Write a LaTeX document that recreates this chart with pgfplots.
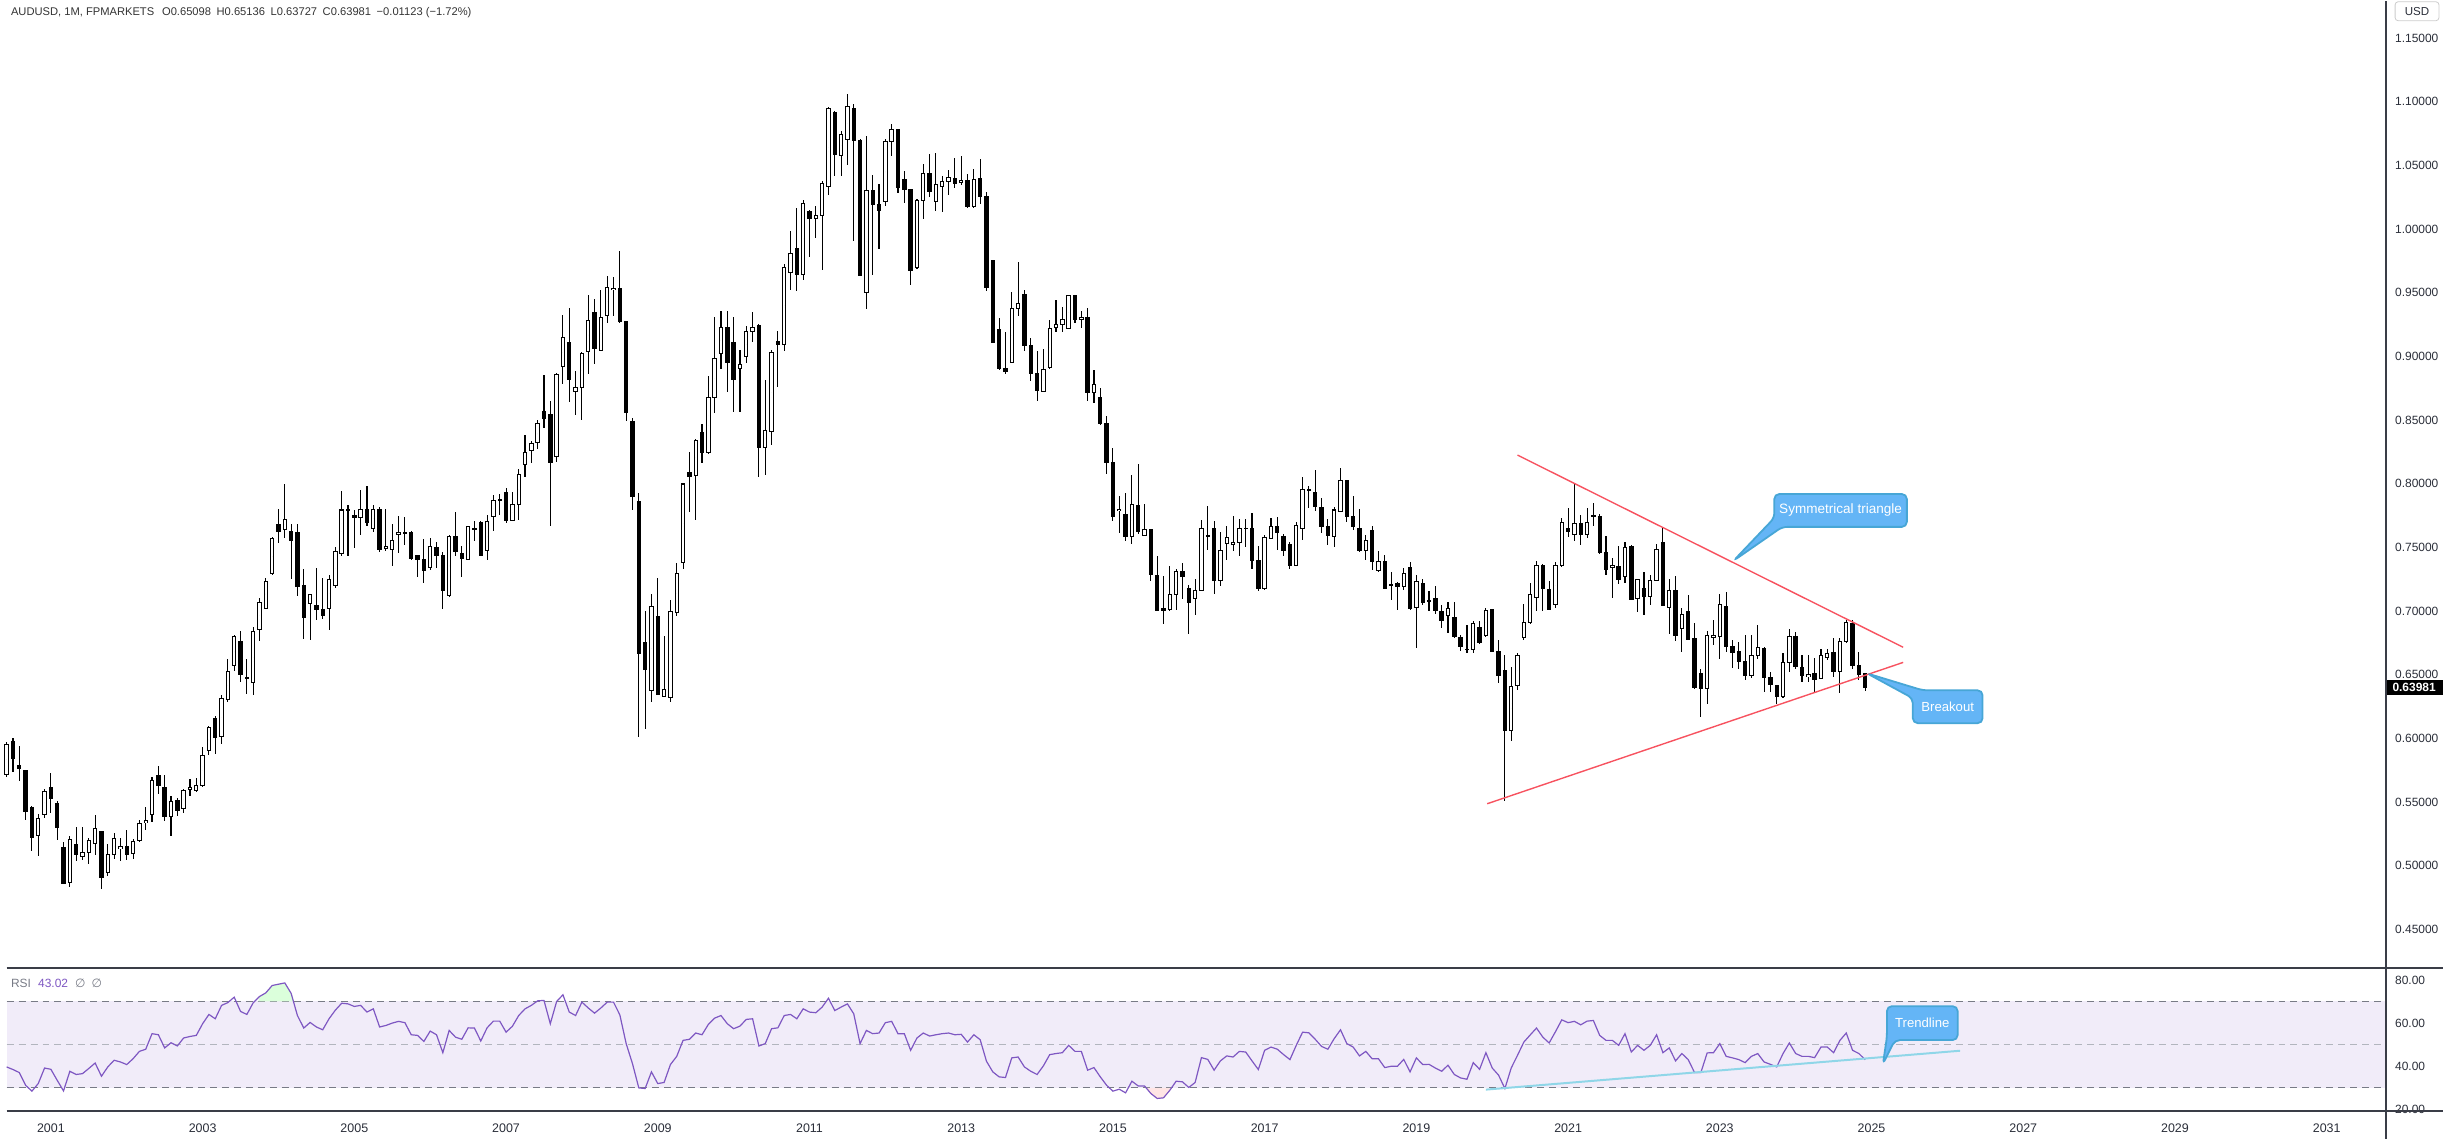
\documentclass[border=0pt]{standalone}
\usepackage{fontspec}
\setmainfont{Liberation Sans}
\newfontfamily\dejavu{DejaVu Sans}
\usepackage{pgfplots}
\usepackage{pgfplotstable}
\pgfplotsset{compat=1.18}
\definecolor{clab}{HTML}{2A2E39}
\definecolor{chdr}{HTML}{333333}
\definecolor{csep}{HTML}{3A3D47}
\definecolor{crsi}{HTML}{7E57C2}
\definecolor{cband}{RGB}{241,236,249}
\definecolor{cdash}{HTML}{787B86}
\definecolor{cdashb}{HTML}{B2B5BE}
\definecolor{cred}{HTML}{F7525F}
\definecolor{cfill}{HTML}{64B5F6}
\definecolor{cborder}{HTML}{47A6D6}
\definecolor{ctrend}{HTML}{8FD6E8}

\pgfplotstableread{
i O H L C
0 0.5714 0.5970 0.5700 0.5949
1 0.5975 0.6001 0.5740 0.5839
2 0.5787 0.5944 0.5667 0.5761
3 0.5745 0.5753 0.5362 0.5427
4 0.5461 0.5466 0.5119 0.5223
5 0.5239 0.5406 0.5080 0.5375
6 0.5406 0.5602 0.5375 0.5583
7 0.5615 0.5727 0.5414 0.5531
8 0.5489 0.5505 0.5205 0.5302
9 0.5145 0.5187 0.4853 0.4860
10 0.4871 0.5231 0.4832 0.5205
11 0.5166 0.5304 0.5035 0.5088
12 0.5074 0.5304 0.5048 0.5103
13 0.5106 0.5218 0.5017 0.5197
14 0.5176 0.5395 0.5088 0.5291
15 0.5270 0.5275 0.4821 0.4910
16 0.4949 0.5171 0.4918 0.5088
17 0.5088 0.5257 0.5056 0.5218
18 0.5134 0.5218 0.5040 0.5153
19 0.5155 0.5278 0.5048 0.5088
20 0.5095 0.5210 0.5056 0.5192
21 0.5197 0.5356 0.5184 0.5333
22 0.5336 0.5461 0.5283 0.5354
23 0.5401 0.5701 0.5341 0.5670
24 0.5709 0.5787 0.5563 0.5630
25 0.5615 0.5714 0.5349 0.5385
26 0.5385 0.5549 0.5231 0.5505
27 0.5513 0.5536 0.5393 0.5435
28 0.5448 0.5602 0.5416 0.5591
29 0.5602 0.5680 0.5549 0.5612
30 0.5589 0.5688 0.5581 0.5628
31 0.5628 0.5936 0.5617 0.5865
32 0.5904 0.6100 0.5871 0.6085
33 0.6155 0.6178 0.5878 0.6011
34 0.6014 0.6340 0.5957 0.6312
35 0.6309 0.6620 0.6283 0.6523
36 0.6575 0.6815 0.6530 0.6797
37 0.6758 0.6841 0.6445 0.6505
38 0.6471 0.6620 0.6346 0.6479
39 0.6442 0.6875 0.6340 0.6836
40 0.6857 0.7102 0.6763 0.7071
41 0.7024 0.7259 0.7019 0.7236
42 0.7293 0.7580 0.7285 0.7572
43 0.7682 0.7802 0.7538 0.7624
44 0.7643 0.7998 0.7577 0.7721
45 0.7627 0.7684 0.7249 0.7554
46 0.7619 0.7684 0.7115 0.7194
47 0.7199 0.7332 0.6784 0.6950
48 0.7063 0.7136 0.6771 0.7129
49 0.7040 0.7340 0.6928 0.7014
50 0.7016 0.7259 0.6935 0.6967
51 0.7024 0.7280 0.6849 0.7251
52 0.7202 0.7502 0.7183 0.7468
53 0.7455 0.7943 0.7431 0.7794
54 0.7794 0.7833 0.7436 0.7800
55 0.7752 0.7794 0.7499 0.7734
56 0.7734 0.7951 0.7601 0.7799
57 0.7794 0.7982 0.7669 0.7695
58 0.7651 0.7833 0.7619 0.7799
59 0.7794 0.7815 0.7468 0.7483
60 0.7489 0.7802 0.7475 0.7511
61 0.7483 0.7685 0.7358 0.7553
62 0.7601 0.7746 0.7453 0.7620
63 0.7608 0.7740 0.7522 0.7615
64 0.7620 0.7629 0.7405 0.7413
65 0.7433 0.7440 0.7265 0.7405
66 0.7405 0.7567 0.7223 0.7321
67 0.7341 0.7573 0.7321 0.7511
68 0.7503 0.7545 0.7335 0.7439
69 0.7439 0.7467 0.7014 0.7159
70 0.7126 0.7595 0.7112 0.7584
71 0.7584 0.7779 0.7433 0.7469
72 0.7455 0.7511 0.7265 0.7413
73 0.7405 0.7668 0.7400 0.7662
74 0.7651 0.7704 0.7550 0.7640
75 0.7693 0.7704 0.7433 0.7439
76 0.7475 0.7754 0.7405 0.7704
77 0.7741 0.7908 0.7629 0.7872
78 0.7868 0.7920 0.7755 0.7875
79 0.7928 0.7964 0.7690 0.7713
80 0.7713 0.7936 0.7710 0.7838
81 0.7838 0.8118 0.7713 0.8076
82 0.8151 0.8383 0.8056 0.8249
83 0.8263 0.8333 0.8160 0.8319
84 0.8322 0.8501 0.8271 0.8473
85 0.8565 0.8858 0.8439 0.8515
86 0.8546 0.8649 0.7665 0.8165
87 0.8216 0.8872 0.8174 0.8858
88 0.8923 0.9328 0.8780 0.9146
89 0.9110 0.9384 0.8640 0.8822
90 0.8724 0.8886 0.8543 0.8755
91 0.8755 0.9032 0.8501 0.9021
92 0.9040 0.9479 0.8864 0.9286
93 0.9348 0.9451 0.8942 0.9060
94 0.9049 0.9524 0.9040 0.9306
95 0.9320 0.9633 0.9261 0.9538
96 0.9525 0.9627 0.9314 0.9535
97 0.9530 0.9828 0.9264 0.9272
98 0.9272 0.9278 0.8489 0.8559
99 0.8489 0.8517 0.7796 0.7903
100 0.7863 0.7931 0.6013 0.6664
101 0.6754 0.6999 0.6077 0.6539
102 0.6377 0.7131 0.6287 0.7036
103 0.6958 0.7260 0.6343 0.6349
104 0.6329 0.6804 0.6323 0.6382
105 0.6321 0.7089 0.6287 0.7000
106 0.6986 0.7377 0.6963 0.7293
107 0.7385 0.8006 0.7327 0.7998
108 0.8090 0.8249 0.7782 0.8059
109 0.8068 0.8350 0.7718 0.8341
110 0.8403 0.8467 0.8165 0.8244
111 0.8244 0.8845 0.8230 0.8677
112 0.8677 0.9311 0.8557 0.8984
113 0.9021 0.9356 0.8900 0.9227
114 0.9227 0.9356 0.8719 0.8956
115 0.9110 0.9311 0.8565 0.8817
116 0.8906 0.9054 0.8565 0.8937
117 0.8998 0.9236 0.8948 0.9194
118 0.9194 0.9345 0.9116 0.9227
119 0.9240 0.9256 0.8056 0.8288
120 0.8288 0.8818 0.8069 0.8418
121 0.8413 0.9053 0.8303 0.9027
122 0.9115 0.9201 0.8758 0.9094
123 0.9097 0.9723 0.9040 0.9700
124 0.9660 0.9984 0.9522 0.9810
125 0.9849 1.0162 0.9517 0.9645
126 0.9645 1.0232 0.9601 1.0201
127 1.0141 1.0149 0.9783 1.0083
128 1.0083 1.0180 0.9927 1.0104
129 1.0104 1.0376 0.9679 1.0358
130 1.0332 1.0958 1.0266 1.0945
131 1.0914 1.0924 1.0415 1.0585
132 1.0574 1.0767 1.0415 1.0741
133 1.0702 1.1057 1.0501 1.0963
134 1.0945 1.0979 0.9909 1.0692
135 1.0697 1.0710 0.9630 0.9635
136 0.9504 1.0728 0.9371 1.0305
137 1.0305 1.0423 0.9640 1.0193
138 1.0196 1.0358 0.9843 1.0149
139 1.0214 1.0710 1.0180 1.0689
140 1.0689 1.0827 1.0572 1.0780
141 1.0780 1.0788 1.0285 1.0324
142 1.0389 1.0454 1.0206 1.0311
143 1.0311 1.0318 0.9562 0.9674
144 0.9697 1.0235 0.9684 1.0227
145 1.0222 1.0514 1.0078 1.0436
146 1.0436 1.0587 1.0248 1.0292
147 1.0214 1.0600 1.0144 1.0350
148 1.0332 1.0415 1.0136 1.0371
149 1.0371 1.0467 1.0266 1.0405
150 1.0397 1.0561 1.0324 1.0358
151 1.0365 1.0572 1.0345 1.0384
152 1.0384 1.0436 1.0167 1.0175
153 1.0175 1.0475 1.0167 1.0389
154 1.0397 1.0553 1.0196 1.0253
155 1.0258 1.0292 0.9510 0.9541
156 0.9750 0.9757 0.9105 0.9110
157 0.9214 0.9300 0.8896 0.8909
158 0.8904 0.9191 0.8862 0.8878
159 0.8956 0.9509 0.8948 0.9379
160 0.9379 0.9739 0.9321 0.9418
161 0.9488 0.9522 0.9045 0.9086
162 0.9084 0.9144 0.8805 0.8862
163 0.8862 0.9045 0.8648 0.8734
164 0.8726 0.9061 0.8719 0.8901
165 0.8914 0.9288 0.8901 0.9222
166 0.9227 0.9444 0.9188 0.9254
167 0.9254 0.9387 0.9188 0.9288
168 0.9222 0.9483 0.9214 0.9475
169 0.9475 0.9481 0.9261 0.9293
170 0.9288 0.9360 0.9222 0.9308
171 0.9308 0.9379 0.8648 0.8718
172 0.8718 0.8896 0.8635 0.8776
173 0.8674 0.8752 0.8465 0.8473
174 0.8473 0.8530 0.8074 0.8165
175 0.8165 0.8277 0.7708 0.7742
176 0.7790 0.7906 0.7614 0.7800
177 0.7755 0.7927 0.7554 0.7585
178 0.7588 0.8068 0.7528 0.7838
179 0.7833 0.8154 0.7606 0.7624
180 0.7593 0.7841 0.7590 0.7637
181 0.7637 0.7645 0.7233 0.7287
182 0.7277 0.7436 0.7000 0.7006
183 0.7019 0.7272 0.6901 0.7006
184 0.7011 0.7358 0.6998 0.7128
185 0.7131 0.7332 0.7011 0.7314
186 0.7314 0.7380 0.7092 0.7272
187 0.7180 0.7207 0.6823 0.7071
188 0.7102 0.7254 0.6966 0.7162
189 0.7162 0.7718 0.7160 0.7650
190 0.7590 0.7822 0.7483 0.7592
191 0.7650 0.7705 0.7136 0.7240
192 0.7240 0.7624 0.7196 0.7475
193 0.7528 0.7666 0.7405 0.7580
194 0.7525 0.7744 0.7475 0.7541
195 0.7541 0.7723 0.7436 0.7645
196 0.7648 0.7723 0.7501 0.7650
197 0.7645 0.7770 0.7332 0.7397
198 0.7397 0.7515 0.7154 0.7180
199 0.7175 0.7598 0.7167 0.7575
200 0.7572 0.7728 0.7570 0.7666
201 0.7666 0.7736 0.7483 0.7619
202 0.7588 0.7606 0.7436 0.7475
203 0.7520 0.7546 0.7327 0.7358
204 0.7358 0.7697 0.7355 0.7671
205 0.7650 0.8050 0.7562 0.7953
206 0.7950 0.7980 0.7807 0.7953
207 0.7932 0.8112 0.7789 0.7820
208 0.7815 0.7888 0.7614 0.7663
209 0.7666 0.7723 0.7522 0.7593
210 0.7585 0.7815 0.7501 0.7794
211 0.7783 0.8123 0.7775 0.8023
212 0.8023 0.8031 0.7702 0.7744
213 0.7744 0.7901 0.7640 0.7663
214 0.7650 0.7802 0.7468 0.7475
215 0.7475 0.7598 0.7402 0.7556
216 0.7635 0.7671 0.7319 0.7392
217 0.7319 0.7475 0.7311 0.7392
218 0.7392 0.7441 0.7170 0.7175
219 0.7203 0.7306 0.7084 0.7209
220 0.7214 0.7227 0.7011 0.7196
221 0.7196 0.7337 0.7162 0.7298
222 0.7345 0.7384 0.7011 0.7019
223 0.7032 0.7285 0.6710 0.7235
224 0.7214 0.7254 0.7050 0.7071
225 0.7084 0.7157 0.6998 0.7076
226 0.7097 0.7196 0.6979 0.7006
227 0.7000 0.7045 0.6867 0.6927
228 0.6966 0.7071 0.6830 0.7019
229 0.6953 0.7071 0.6789 0.6797
230 0.6789 0.6815 0.6684 0.6726
231 0.6698 0.6888 0.6674 0.6702
232 0.6700 0.6919 0.6674 0.6906
233 0.6875 0.6919 0.6745 0.6750
234 0.6810 0.7024 0.6797 0.7006
235 0.7011 0.7015 0.6675 0.6680
236 0.6680 0.6771 0.6432 0.6497
237 0.6531 0.6653 0.5510 0.6066
238 0.6066 0.6562 0.5980 0.6406
239 0.6413 0.6674 0.6380 0.6653
240 0.6789 0.7058 0.6771 0.6907
241 0.6907 0.7222 0.6896 0.7131
242 0.7110 0.7397 0.6998 0.7358
243 0.7358 0.7371 0.6998 0.7176
244 0.7170 0.7233 0.7006 0.7014
245 0.7050 0.7384 0.7024 0.7358
246 0.7358 0.7729 0.7345 0.7698
247 0.7651 0.7807 0.7580 0.7624
248 0.7601 0.8002 0.7554 0.7690
249 0.7690 0.7755 0.7520 0.7601
250 0.7601 0.7810 0.7572 0.7698
251 0.7742 0.7849 0.7671 0.7748
252 0.7745 0.7763 0.7450 0.7457
253 0.7457 0.7588 0.7285 0.7327
254 0.7345 0.7416 0.7102 0.7358
255 0.7353 0.7510 0.7215 0.7249
256 0.7275 0.7541 0.7220 0.7502
257 0.7510 0.7520 0.7084 0.7089
258 0.7097 0.7254 0.6993 0.7249
259 0.7176 0.7306 0.6967 0.7118
260 0.7118 0.7280 0.7045 0.7241
261 0.7241 0.7528 0.7233 0.7483
262 0.7536 0.7658 0.7040 0.7045
263 0.7032 0.7254 0.6823 0.7163
264 0.7163 0.7275 0.6766 0.6810
265 0.6862 0.7024 0.6680 0.6970
266 0.6998 0.7129 0.6771 0.6776
267 0.6784 0.6907 0.6387 0.6398
268 0.6510 0.6544 0.6171 0.6393
269 0.6393 0.6841 0.6267 0.6805
270 0.6794 0.6928 0.6732 0.6810
271 0.6797 0.7136 0.6627 0.7050
272 0.7040 0.7149 0.6680 0.6719
273 0.6719 0.6771 0.6554 0.6674
274 0.6680 0.6758 0.6544 0.6607
275 0.6601 0.6810 0.6458 0.6492
276 0.6492 0.6815 0.6476 0.6648
277 0.6653 0.6888 0.6627 0.6711
278 0.6706 0.6719 0.6361 0.6476
279 0.6476 0.6523 0.6366 0.6424
280 0.6413 0.6419 0.6267 0.6327
281 0.6327 0.6672 0.6319 0.6593
282 0.6596 0.6857 0.6523 0.6797
283 0.6797 0.6836 0.6544 0.6562
284 0.6554 0.6653 0.6440 0.6492
285 0.6484 0.6653 0.6445 0.6502
286 0.6510 0.6633 0.6353 0.6466
287 0.6471 0.6706 0.6466 0.6648
288 0.6633 0.6700 0.6614 0.6667
289 0.6674 0.6789 0.6484 0.6528
290 0.6528 0.6789 0.6353 0.6758
291 0.6758 0.6933 0.6753 0.6907
292 0.6901 0.6928 0.6549 0.6570
293 0.6570 0.6680 0.6458 0.6502
294 0.65098 0.65136 0.63727 0.63981
}\ohlc

\pgfplotstableread{
i r
0 39.7
1 38.5
2 37.1
3 31.2
4 28.5
5 32.0
6 39.2
7 38.6
8 33.5
9 28.6
10 37.7
11 36.2
12 36.6
13 39.0
14 41.5
15 35.4
16 39.7
17 42.8
18 42.0
19 40.8
20 43.5
21 46.9
22 47.9
23 55.1
24 54.6
25 48.5
26 50.9
27 49.4
28 53.1
29 53.8
30 54.3
31 59.7
32 64.0
33 62.0
34 68.2
35 69.5
36 72.0
37 65.4
38 64.0
39 69.4
40 72.3
41 74.0
42 77.4
43 78.0
44 78.6
45 73.8
46 63.5
47 57.7
48 60.3
49 58.2
50 56.9
51 62.0
52 66.0
53 69.2
54 68.9
55 67.7
56 68.2
57 65.1
58 66.6
59 58.2
60 58.9
61 60.0
62 60.8
63 60.2
64 54.6
65 54.3
66 51.5
67 56.3
68 54.6
69 46.3
70 56.6
71 53.5
72 52.5
73 57.8
74 57.7
75 51.7
76 57.8
77 60.9
78 60.9
79 55.8
80 58.5
81 63.5
82 66.6
83 68.2
84 70.3
85 70.5
86 59.7
87 70.0
88 73.1
89 65.1
90 63.5
91 69.7
92 67.0
93 64.6
94 67.0
95 69.7
96 69.7
97 63.8
98 50.5
99 41.2
100 30.0
101 29.7
102 37.4
103 32.0
104 32.5
105 40.8
106 44.6
107 52.0
108 52.5
109 55.4
110 54.6
111 59.4
112 62.3
113 63.5
114 59.7
115 57.4
116 58.6
117 61.7
118 62.0
119 49.4
120 50.5
121 57.4
122 57.8
123 63.5
124 64.0
125 62.0
126 66.6
127 65.1
128 64.8
129 67.4
130 71.5
131 65.8
132 67.4
133 68.9
134 64.3
135 50.5
136 56.6
137 55.1
138 55.4
139 60.2
140 60.8
141 55.1
142 55.1
143 47.4
144 53.1
145 55.4
146 54.0
147 54.6
148 55.1
149 55.4
150 54.6
151 54.8
152 51.2
153 54.6
154 52.3
155 42.3
156 37.4
157 35.1
158 34.8
159 43.9
160 44.3
161 39.7
162 37.7
163 36.2
164 40.2
165 45.4
166 45.9
167 46.3
168 49.7
169 46.9
170 46.9
171 38.2
172 39.4
173 35.1
174 31.2
175 28.5
176 29.4
177 27.7
178 33.1
179 30.9
180 30.9
181 27.4
182 25.1
183 25.4
184 28.9
185 33.1
186 32.8
187 30.2
188 32.5
189 44.0
190 43.2
191 38.2
192 42.5
193 44.8
194 44.3
195 46.9
196 46.6
197 42.5
198 38.5
199 47.4
200 48.9
201 47.9
202 45.4
203 43.1
204 49.7
205 55.8
206 55.5
207 52.5
208 49.2
209 47.9
210 52.8
211 56.9
212 50.5
213 48.9
214 44.8
215 46.9
216 43.5
217 43.5
218 39.4
219 40.0
220 40.0
221 43.2
222 37.4
223 43.9
224 40.8
225 40.9
226 39.2
227 37.7
228 40.5
229 36.2
230 34.6
231 34.0
232 41.7
233 38.6
234 46.3
235 39.2
236 35.9
237 29.7
238 39.2
239 45.1
240 51.2
241 54.5
242 57.7
243 53.5
244 50.8
245 56.0
246 61.5
247 60.2
248 60.8
249 59.2
250 60.9
251 61.2
252 54.3
253 52.0
254 52.0
255 49.7
256 55.1
257 46.6
258 49.7
259 47.4
260 49.7
261 54.6
262 46.3
263 48.5
264 42.5
265 45.9
266 43.1
267 37.1
268 37.1
269 46.2
270 46.3
271 50.5
272 44.6
273 43.9
274 43.1
275 41.7
276 44.6
277 45.9
278 42.0
279 40.9
280 39.7
281 45.9
282 50.8
283 45.9
284 44.6
285 44.6
286 44.0
287 48.9
288 48.9
289 46.3
290 52.0
291 55.4
292 47.4
293 45.9
294 43.02
}\rsi

\begin{document}
\begin{tikzpicture}[x=1pt,y=1pt]
% ---------------- main price panel ----------------
\begin{axis}[
  at={(0pt,85.65pt)}, anchor=south west,
  scale only axis, width=1194pt, height=485.35pt,
  xmin=0, xmax=376.4, ymin=0.4197, ymax=1.1793,
  clip=false,
  axis x line=none,
  axis y line*=right,
  y axis line style={draw=none},
  major tick length=0pt,
  ytick={0.45,0.50,0.55,0.60,0.65,0.70,0.75,0.80,0.85,0.90,0.95,1.00,1.05,1.10,1.15},
  yticklabel style={font=\fontsize{6}{7}\selectfont, text=clab, anchor=west, xshift=1pt,
    /pgf/number format/.cd, fixed, fixed zerofill, precision=5, assume math mode=true},
  candle/.style={only marks, mark=none, mark size=0pt, forget plot},
]
% wicks
\addplot[candle,
  error bars/.cd, y dir=both, y explicit, error mark=none,
  error bar style={line width=0.55pt, draw=black, line cap=butt}]
  table[x=i, y expr={(\thisrow{H}+\thisrow{L})/2}, y error expr={(\thisrow{H}-\thisrow{L})/2}] {\ohlc};
% down bodies
\addplot[candle,
  restrict expr to domain={\thisrow{O}-\thisrow{C}}{0.00001:10},
  error bars/.cd, y dir=both, y explicit, error mark=none,
  error bar style={line width=2.2pt, draw=black, line cap=butt}]
  table[x=i, y expr={(\thisrow{O}+\thisrow{C})/2}, y error expr={abs(\thisrow{O}-\thisrow{C})/2+0.0004}] {\ohlc};
% up bodies: outline
\addplot[candle,
  restrict expr to domain={\thisrow{C}-\thisrow{O}}{0:10},
  error bars/.cd, y dir=both, y explicit, error mark=none,
  error bar style={line width=2.2pt, draw=black, line cap=butt}]
  table[x=i, y expr={(\thisrow{O}+\thisrow{C})/2}, y error expr={abs(\thisrow{C}-\thisrow{O})/2+0.0004}] {\ohlc};
% up bodies: white interior
\addplot[candle,
  restrict expr to domain={\thisrow{C}-\thisrow{O}}{0:10},
  error bars/.cd, y dir=both, y explicit, error mark=none,
  error bar style={line width=1.2pt, draw=white, line cap=butt}]
  table[x=i, y expr={(\thisrow{O}+\thisrow{C})/2}, y error expr={max(abs(\thisrow{C}-\thisrow{O})/2-0.0004,0)}] {\ohlc};
% triangle lines
\addplot[cred, line width=0.7pt, no marks] coordinates {(239.0,0.8225) (300.0,0.6716)};
\addplot[cred, line width=0.7pt, no marks] coordinates {(234.2,0.5487) (300.0,0.6597)};
\end{axis}

% ---------------- RSI panel ----------------
\begin{axis}[
  at={(0pt,13.85pt)}, anchor=south west,
  scale only axis, width=1194pt, height=71.8pt,
  xmin=0, xmax=376.4, ymin=19.25, ymax=85.5,
  clip=false,
  axis x line*=bottom, x axis line style={draw=none},
  axis y line*=right, y axis line style={draw=none},
  major tick length=0pt,
  ytick={20,40,60,80},
  yticklabel style={font=\fontsize{6}{7}\selectfont, text=clab, anchor=west, xshift=1pt,
    /pgf/number format/.cd, fixed, fixed zerofill, precision=2, assume math mode=true},
  xtick={7,31,55,79,103,127,151,175,199,223,247,271,295,319,343,367},
  xticklabels={2001,2003,2005,2007,2009,2011,2013,2015,2017,2019,2021,2023,2025,2027,2029,2031},
  xticklabel style={font=\fontsize{6.25}{7}\selectfont, text=clab, anchor=center, yshift=-8.5pt},
]
\fill[cband] (axis cs:0,30) rectangle (axis cs:376.4,70);
\draw[cdash, line width=0.5pt, dash pattern=on 3.5pt off 2.5pt] (axis cs:0,70) -- (axis cs:376.4,70);
\draw[cdashb, line width=0.5pt, dash pattern=on 3.5pt off 2.5pt] (axis cs:0,50) -- (axis cs:376.4,50);
\draw[cdash, line width=0.5pt, dash pattern=on 3.5pt off 2.5pt] (axis cs:0,30) -- (axis cs:376.4,30);
\addplot[fill=green!14, draw=none, forget plot] coordinates {(39.8,70) (40,72.3) (41,74.0) (42,77.4) (43,78.0) (44,78.6) (45,73.8) (45.4,70)};
\addplot[fill=red!10, draw=none, forget plot] coordinates {(180.3,30) (181,27.4) (182,25.1) (183,25.4) (184,28.9) (184.3,30)};
\addplot[crsi, line width=0.6pt, no marks] table[x=i, y=r] {\rsi};
\addplot[ctrend, line width=1pt, no marks] coordinates {(234.0,29.2) (309.0,47.2)};
\end{axis}

% ---------------- frame lines ----------------
\draw[csep, line width=0.8pt] (1194,0) -- (1194,571);
\draw[csep, line width=0.8pt] (0,85.65) -- (1222.5,85.65);
\draw[csep, line width=0.8pt] (0,13.85) -- (1222.5,13.85);

% ---------------- header texts ----------------
\node[anchor=west, inner sep=0pt, text=chdr, font=\fontsize{5.6}{7}\selectfont] at (2,565)
  {AUDUSD, 1M, FPMARKETS\hspace{0.7em}O0.65098\hspace{0.5em}H0.65136\hspace{0.5em}L0.63727\hspace{0.5em}C0.63981\hspace{0.5em}−0.01123 (−1.72\%)};
\node[anchor=west, inner sep=0pt, font=\fontsize{6}{7}\selectfont] at (2,78)
  {\textcolor{cdash}{RSI}\hspace{0.6em}\textcolor{crsi}{43.02}\hspace{0.6em}\textcolor{cdash}{\dejavu ∅\hspace{0.5em}∅}};

% USD box
\draw[gray!40, line width=0.4pt, rounded corners=1.5pt, fill=white] (1198.5,561) rectangle (1220.5,570.5);
\node[text=clab, font=\fontsize{5.8}{7}\selectfont, inner sep=0pt] at (1209.5,565.7) {USD};

% current price label
\fill[black] (1194.5,222.6) rectangle (1222.5,230.2);
\node[text=white, font=\fontsize{6}{7}\selectfont\bfseries, inner sep=0pt, anchor=west] at (1197,226.4) {0.63981};

% ---------------- callouts ----------------
\filldraw[fill=cfill, draw=cborder, line width=0.9pt, rounded corners=2.5pt]
  (887,323.5) -- (953.5,323.5) -- (953.5,307) -- (891,307) -- (866.5,290) -- (887,311.5) -- cycle;
\node[text=white, font=\fontsize{6.8}{7}\selectfont] at (920.25,315.25) {Symmetrical triangle};

\filldraw[fill=cfill, draw=cborder, line width=0.9pt, rounded corners=2.5pt]
  (961.5,225) -- (991.5,225) -- (991.5,208.5) -- (956.5,208.5) -- (956.5,221) -- (933.5,233.5) -- cycle;
\node[text=white, font=\fontsize{6.6}{7}\selectfont] at (974,216.75) {Breakout};

\filldraw[fill=cfill, draw=cborder, line width=0.9pt, rounded corners=2.5pt]
  (943.5,66.5) -- (979,66.5) -- (979,49.5) -- (947.5,49.5) -- (941.5,37.5) -- (943.5,51) -- cycle;
\node[text=white, font=\fontsize{6.6}{7}\selectfont] at (961.25,58) {Trendline};
\end{tikzpicture}
\end{document}
